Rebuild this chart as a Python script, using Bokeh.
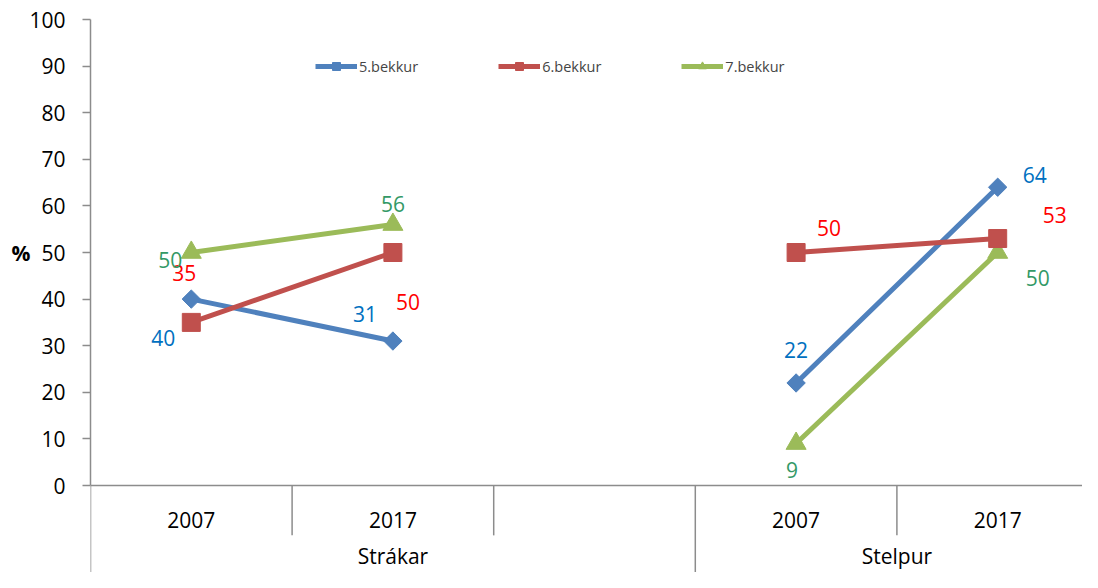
import math
from bokeh.plotting import figure
from bokeh.models import (Range1d, FixedTicker, Legend, LegendItem,
                          ColumnDataSource)
from bokeh.core.properties import value
from bokeh.embed import file_html
from bokeh.resources import INLINE

# ---------------- data ----------------
groups = ["Strákar", "Stelpur"]
group_slots = [3, 2]                      # slots per group (Strákar has an empty slot)
slot_years = ["2007", "2017", "", "2007", "2017"]
series = ["5.bekkur", "6.bekkur", "7.bekkur"]
bekkur5 = [40, 31, 22, 64]
bekkur6 = [35, 50, 50, 53]
bekkur7 = [50, 56, 9, 50]
y_ticks = [0, 10, 20, 30, 40, 50, 60, 70, 80, 90, 100]

# ---------------- styles ----------------
FONT = "Open Sans"
line_colors = ["#4F81BD", "#C0504D", "#9BBB59"]
label_colors = ["#0070C0", "#FF0000", "#339966"]
markers = ["square", "square", "triangle"]
marker_angles = [math.pi / 4, 0, 0]
marker_sizes = [13, 18, 20]
draw_order = [0, 2, 1]
# label offsets (screen px) per series per point
label_offsets = [
    [(-28, 39), (-28, -27), (0, -33), (37, -12)],
    [(-7, -49), (15, 49), (33, -25), (57, -24)],
    [(-21, 7), (0, -21), (-4, 26), (40, 25)],
]
AXIS_GRAY = "#8C8C8C"

W, H = 1082, 572
LEFT = 90
PX_PER_SLOT = 201.6
PX_PER_UNIT = 4.66
Y0_CANVAS = 485          # canvas y of value 0

x_end = (W - LEFT) / PX_PER_SLOT
y_start = -(H - Y0_CANVAS) / PX_PER_UNIT
y_end = Y0_CANVAS / PX_PER_UNIT

p = figure(width=W, height=H, output_backend="svg", toolbar_location=None,
           x_range=Range1d(0, x_end), y_range=Range1d(y_start, y_end),
           x_axis_location=None, min_border_left=LEFT, min_border_right=0,
           min_border_top=0, min_border_bottom=0)
p.outline_line_color = None
p.xgrid.visible = False
p.ygrid.visible = False
p.background_fill_color = "white"
p.border_fill_color = "white"

yax = p.yaxis[0]
yax.ticker = FixedTicker(ticks=y_ticks)
yax.bounds = (0, 100)
yax.axis_line_color = AXIS_GRAY
yax.axis_line_width = 1.5
yax.major_tick_line_color = AXIS_GRAY
yax.major_tick_line_width = 1.5
yax.major_tick_out = 8
yax.major_tick_in = 0
yax.minor_tick_line_color = None
yax.major_label_text_font = FONT
yax.major_label_text_font_size = "21px"
yax.major_label_text_color = "black"
yax.major_label_standoff = 17
yax.axis_label = "%\n \n "
yax.axis_label_text_font = FONT
yax.axis_label_text_font_size = "21px"
yax.axis_label_text_font_style = "bold"
yax.axis_label_text_color = "black"
try:
    yax.axis_label_orientation = "horizontal"
except Exception:
    pass
try:
    yax.axis_label_standoff = -4
except Exception:
    yax.axis_label_standoff = 0

# category positions
n_slots = len(slot_years)
slot_centers = [i + 0.5 for i in range(n_slots)]
point_slots = [i for i, yr in enumerate(slot_years) if yr]
bottom_short = -10.7
bottom_long = y_start

# separators
group_bounds = [0]
for n in group_slots:
    group_bounds.append(group_bounds[-1] + n)
sep_x = list(range(n_slots))
sep_y1 = [bottom_long if i in group_bounds else bottom_short for i in sep_x]
p.segment(x0=sep_x, y0=[0] * len(sep_x), x1=sep_x, y1=sep_y1,
          line_color=AXIS_GRAY, line_width=1.5)
p.segment(x0=[0], y0=[0], x1=[n_slots], y1=[0], line_color=AXIS_GRAY, line_width=1.5)

# year labels
yr_x = [slot_centers[i] for i in point_slots]
yr_t = [slot_years[i] for i in point_slots]
p.text(x=yr_x, y=[-7.5] * len(yr_x), text=yr_t, text_font=value(FONT),
       text_font_size="21px", text_align="center", text_baseline="middle",
       text_color="black")
# group labels
grp_x = [(group_bounds[i] + group_bounds[i + 1]) / 2 for i in range(len(groups))]
p.text(x=grp_x, y=[-15.2] * len(groups), text=groups, text_font=value(FONT),
       text_font_size="21px", text_align="center", text_baseline="middle",
       text_color="black")

# series
all_vals = [bekkur5, bekkur6, bekkur7]
items = [None] * 3
px = [slot_centers[s] for s in point_slots]
for k in draw_order:
    vals = all_vals[k]
    ys = [float("nan")] * n_slots
    for j, s in enumerate(point_slots):
        ys[s] = vals[j]
    lr = p.line(x=slot_centers, y=ys, line_color=line_colors[k], line_width=5)
    sr = p.scatter(x=px, y=vals, marker=markers[k], size=marker_sizes[k],
                   angle=marker_angles[k], fill_color=line_colors[k],
                   line_color=line_colors[k])
    items[k] = LegendItem(label=series[k], renderers=[lr, sr])

for k in range(3):
    vals = all_vals[k]
    src = ColumnDataSource(dict(
        x=px, y=vals, t=[str(v) for v in vals],
        xo=[o[0] for o in label_offsets[k]], yo=[o[1] for o in label_offsets[k]]))
    p.text(x="x", y="y", text="t", x_offset="xo", y_offset="yo", source=src,
           text_font=value(FONT), text_font_size="21px", text_align="center",
           text_baseline="middle", text_color=label_colors[k])

legend = Legend(items=items, orientation="horizontal", location=(225, 496),
                glyph_width=42, glyph_height=20, label_standoff=2, spacing=80,
                padding=0, margin=0, border_line_color=None,
                background_fill_alpha=0, label_text_font=FONT,
                label_text_font_size="14.5px", label_height=20)
p.add_layout(legend)

open("out.html", "w").write(file_html(p, INLINE))
